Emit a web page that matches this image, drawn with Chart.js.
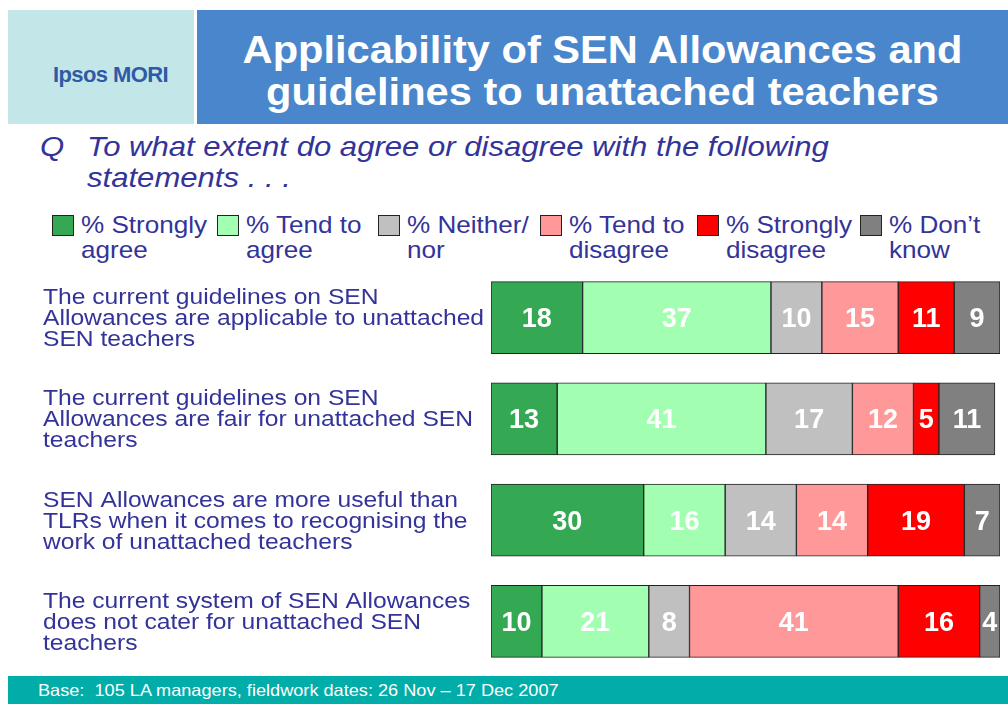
<!DOCTYPE html>
<html>
<head>
<meta charset="utf-8">
<script src="https://cdn.jsdelivr.net/npm/chart.js@4.4.1/dist/chart.umd.min.js"></script>
<style>
  html, body { margin: 0; padding: 0; background: #fff; }
  body { width: 1008px; height: 704px; position: relative; overflow: hidden; font-family: Arial, "Liberation Sans", sans-serif; }
  .logo-box { position: absolute; left: 8px; top: 10px; width: 186px; height: 114px; background: #c3e7e8; }
  .logo { position: absolute; left: 45px; top: 52px; font-size: 22px; font-weight: bold; color: #2f5aa6; letter-spacing: -0.6px; }
  .title-box { position: absolute; left: 197px; top: 10px; width: 811px; height: 114px; background: #4a86cb; }
  .title { position: absolute; left: 0; right: 0; top: 19px; text-align: center; color: #fff; font-weight: bold; font-size: 38px; line-height: 42px; transform: scaleX(1.095); }
  .q { position: absolute; top: 131px; font-style: italic; color: #333399; font-size: 28px; line-height: 31px; transform: scaleX(1.11); transform-origin: left top; white-space: nowrap; }
  .legend { position: absolute; top: 0; left: 0; }
  .li { position: absolute; top: 212px; color: #333399; font-size: 24px; line-height: 25px; white-space: nowrap; transform: scaleX(1.087); transform-origin: left top; }
  .sw { position: absolute; top: 215px; width: 22px; height: 21px; border: 1px solid #222; box-sizing: border-box; }
  .footer { position: absolute; left: 8px; top: 676px; width: 1000px; height: 28px; background: #00ada8; }
  .footer span { position: absolute; left: 30px; top: 5px; color: #fff; font-size: 16.5px; white-space: nowrap; transform: scaleX(1.1); transform-origin: left top; }
  #wrap { position: absolute; left: 40px; top: 267px; width: 960px; height: 405px; }
</style>
</head>
<body>
<div class="logo-box"><div class="logo">Ipsos MORI</div></div>
<div class="title-box"><div class="title">Applicability of SEN Allowances and<br>guidelines to unattached teachers</div></div>
<div class="q" style="left:40px;">Q</div>
<div class="q" style="left:87px;">To what extent do agree or disagree with the following<br>statements . . .</div>
<div class="legend" id="legend"></div>
<div id="wrap"><canvas id="chart"></canvas></div>
<div class="footer"><span>Base:&nbsp; 105 LA managers, fieldwork dates: 26 Nov – 17 Dec 2007</span></div>

<script>
const STATEMENTS = [
  ["The current guidelines on SEN", "Allowances are applicable to unattached", "SEN teachers"],
  ["The current guidelines on SEN", "Allowances are fair for unattached SEN", "teachers"],
  ["SEN Allowances are more useful than", "TLRs when it comes to recognising the", "work of unattached teachers"],
  ["The current system of SEN Allowances", "does not cater for unattached SEN", "teachers"],
];
const SERIES = ["% Strongly agree", "% Tend to agree", "% Neither/ nor", "% Tend to disagree", "% Strongly disagree", "% Don’t know"];
const LEGEND_LINES = [["% Strongly", "agree"], ["% Tend to", "agree"], ["% Neither/", "nor"], ["% Tend to", "disagree"], ["% Strongly", "disagree"], ["% Don’t", "know"]];
const STRONGLY_AGREE    = [18, 13, 30, 10];
const TEND_AGREE        = [37, 41, 16, 21];
const NEITHER           = [10, 17, 14, 8];
const TEND_DISAGREE     = [15, 12, 14, 41];
const STRONGLY_DISAGREE = [11, 5, 19, 16];
const DONT_KNOW         = [9, 11, 7, 4];
const COLORS = ["#35a853", "#a2ffb2", "#c0c0c0", "#ff9999", "#ff0000", "#808080"];

// legend is plain html above the chart
const LEG_X = [52, 217, 378, 540, 697, 860];
const leg = document.getElementById("legend");
LEGEND_LINES.forEach((lines, i) => {
  const sw = document.createElement("div");
  sw.className = "sw";
  sw.style.left = LEG_X[i] + "px";
  sw.style.background = COLORS[i];
  leg.appendChild(sw);
  const t = document.createElement("div");
  t.className = "li";
  t.style.left = (LEG_X[i] + 29) + "px";
  t.innerHTML = lines[0] + "<br>" + lines[1];
  leg.appendChild(t);
});

const FONT = "Arial, 'Liberation Sans', sans-serif";

// white numbers in the middle of each segment
const valueLabels = {
  id: "valueLabels",
  afterDatasetsDraw(chart) {
    const ctx = chart.ctx;
    ctx.save();
    ctx.fillStyle = "#fff";
    ctx.font = "bold 27px " + FONT;
    ctx.textAlign = "center";
    ctx.textBaseline = "middle";
    chart.data.datasets.forEach((ds, di) => {
      chart.getDatasetMeta(di).data.forEach((el, i) => {
        const p = el.getCenterPoint();
        ctx.fillText(String(ds.data[i]), p.x, p.y + 2);
      });
    });
    ctx.restore();
  }
};

// statement text, slightly stretched like the slide
const statementLabels = {
  id: "statementLabels",
  afterDraw(chart) {
    const ctx = chart.ctx, y = chart.scales.y;
    ctx.save();
    ctx.fillStyle = "#333399";
    ctx.font = "22px " + FONT;
    ctx.textBaseline = "alphabetic";
    chart.data.labels.forEach((lines, i) => {
      const cy = y.getPixelForTick(i);
      lines.forEach((ln, k) => {
        ctx.save();
        ctx.translate(3, cy + (k - 1) * 21 + 7.5);
        ctx.scale(1.12, 1);
        ctx.fillText(ln, 0, 0);
        ctx.restore();
      });
    });
    ctx.restore();
  }
};

const allSeries = [STRONGLY_AGREE, TEND_AGREE, NEITHER, TEND_DISAGREE, STRONGLY_DISAGREE, DONT_KNOW];
new Chart(document.getElementById("chart"), {
  type: "bar",
  data: {
    labels: STATEMENTS,
    datasets: allSeries.map((d, i) => ({
      label: SERIES[i], data: d, backgroundColor: COLORS[i],
      borderColor: "#222", borderWidth: 1, borderSkipped: false, barThickness: 72,
    })),
  },
  plugins: [valueLabels, statementLabels],
  options: {
    indexAxis: "y", responsive: true, maintainAspectRatio: false, animation: false,
    layout: { padding: 0 },
    plugins: { legend: { display: false }, tooltip: { enabled: false } },
    scales: {
      x: { stacked: true, min: 0, max: 100, display: false },
      y: {
        stacked: true,
        grid: { display: false }, border: { display: false },
        ticks: { display: false },
        afterFit(s) { s.width = 451; s.paddingTop = 0; s.paddingBottom = 0; },
      },
    },
  },
});
</script>
</body>
</html>
